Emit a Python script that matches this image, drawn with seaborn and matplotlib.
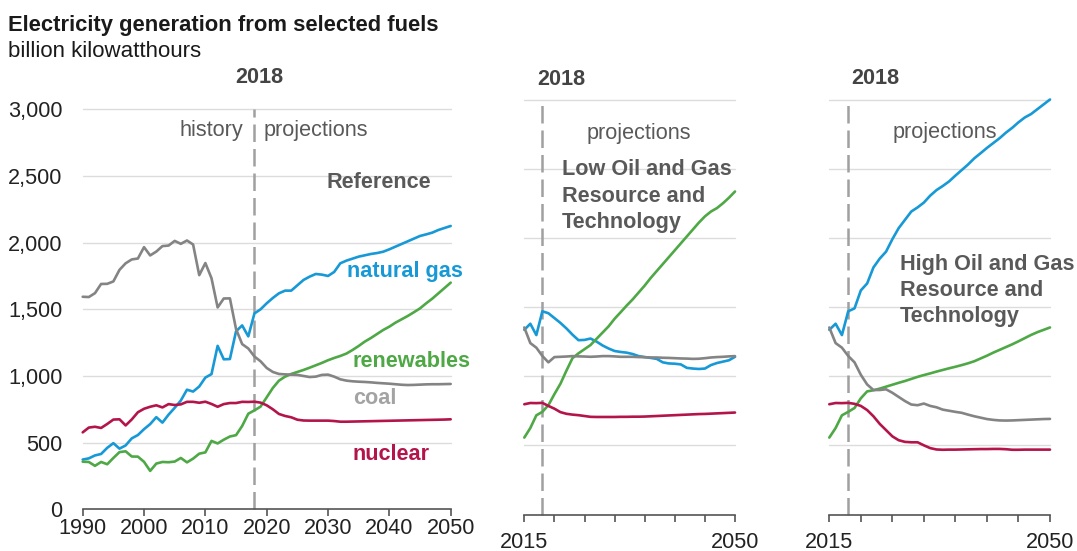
import matplotlib
matplotlib.use("Agg")
import matplotlib.pyplot as plt
import seaborn as sns
import pandas as pd
import numpy as np

# ---------------- data (billion kWh) ----------------
hist_years = list(range(1990, 2019))
hist_coal = [1594, 1592, 1621, 1690, 1691, 1709, 1796, 1845, 1874, 1881, 1966, 1904, 1933, 1974,
             1978, 2013, 1991, 2016, 1986, 1756, 1847, 1733, 1514, 1581, 1582, 1352, 1239, 1206, 1146]
hist_gas = [373, 382, 404, 415, 461, 496, 455, 479, 532, 557, 601, 639, 691, 650,
            710, 761, 816, 897, 883, 921, 988, 1014, 1226, 1125, 1127, 1335, 1379, 1297, 1469]
hist_nuclear = [577, 613, 619, 610, 640, 673, 675, 629, 674, 728, 754, 769, 780, 764,
                789, 782, 787, 806, 806, 799, 807, 790, 769, 789, 797, 797, 806, 805, 807]
hist_renew = [357, 355, 326, 355, 338, 385, 429, 435, 396, 395, 356, 288, 343, 355,
              353, 358, 385, 352, 380, 417, 427, 513, 494, 522, 546, 556, 625, 717, 742]

proj_years = list(range(2019, 2051))
# Reference case
ref_gas = [1500, 1545, 1585, 1620, 1640, 1640, 1680, 1720, 1745, 1765, 1760, 1750, 1780, 1845, 1865, 1880,
           1895, 1905, 1915, 1922, 1932, 1950, 1970, 1990, 2010, 2030, 2050, 2062, 2075, 2095, 2110, 2125]
ref_renew = [770, 840, 910, 965, 995, 1015, 1030, 1045, 1062, 1080, 1098, 1118, 1135, 1150, 1168, 1195,
             1225, 1258, 1285, 1315, 1345, 1370, 1400, 1425, 1450, 1478, 1507, 1545, 1580, 1620, 1660, 1700]
ref_coal = [1110, 1060, 1030, 1015, 1012, 1010, 1008, 1000, 992, 995, 1008, 1010, 995, 975, 965, 960,
            957, 955, 952, 948, 945, 942, 938, 934, 932, 933, 935, 937, 938, 938, 939, 940]
ref_nuclear = [800, 780, 750, 715, 700, 690, 672, 666, 665, 665, 665, 665, 662, 657, 657, 658,
               659, 660, 661, 662, 663, 664, 665, 666, 667, 668, 669, 670, 671, 672, 673, 675]
# Low Oil and Gas Resource and Technology
low_gas = [1455, 1420, 1385, 1345, 1300, 1260, 1262, 1272, 1250, 1222, 1200, 1182, 1175, 1170, 1160, 1145,
           1138, 1132, 1125, 1100, 1092, 1090, 1085, 1060, 1055, 1052, 1055, 1080, 1095, 1105, 1115, 1140]
low_renew = [790, 870, 945, 1040, 1130, 1165, 1195, 1225, 1270, 1315, 1360, 1415, 1462, 1510, 1555, 1605,
             1655, 1710, 1760, 1810, 1860, 1910, 1960, 2010, 2060, 2110, 2155, 2190, 2215, 2250, 2290, 2335]
low_coal = [1100, 1138, 1140, 1142, 1145, 1143, 1142, 1140, 1142, 1145, 1145, 1143, 1140, 1140, 1140, 1138,
            1137, 1135, 1135, 1133, 1132, 1130, 1128, 1127, 1125, 1126, 1130, 1135, 1138, 1140, 1143, 1145]
low_nuclear = [785, 765, 740, 728, 722, 718, 712, 706, 705, 705, 705, 705, 706, 706, 707, 707,
               708, 710, 712, 714, 716, 718, 720, 722, 724, 726, 727, 729, 731, 733, 735, 737]
# High Oil and Gas Resource and Technology
high_gas = [1490, 1620, 1670, 1786, 1850, 1900, 1990, 2070, 2130, 2190, 2220, 2255, 2305, 2345, 2375, 2408,
            2450, 2490, 2530, 2575, 2612, 2650, 2685, 2720, 2760, 2795, 2835, 2870, 2895, 2930, 2965, 3000]
high_renew = [770, 840, 890, 898, 910, 924, 938, 952, 965, 980, 995, 1008, 1020, 1033, 1045, 1057,
              1068, 1080, 1093, 1108, 1128, 1148, 1170, 1190, 1210, 1230, 1252, 1275, 1298, 1318, 1335, 1352]
high_coal = [1100, 1010, 940, 900, 900, 905, 880, 850, 820, 795, 790, 802, 785, 775, 758, 750,
             742, 735, 722, 710, 700, 690, 684, 680, 679, 680, 682, 684, 686, 688, 690, 691]
high_nuclear = [800, 785, 755, 710, 655, 610, 565, 537, 525, 522, 522, 500, 480, 470, 468, 469,
                469, 470, 471, 472, 473, 473, 474, 474, 472, 468, 468, 469, 469, 469, 469, 469]

fuels = ["natural gas", "renewables", "coal", "nuclear"]
yticks = [0, 500, 1000, 1500, 2000, 2500, 3000]
ytick_labels = ["0", "500", "1,000", "1,500", "2,000", "2,500", "3,000"]
left_xticks = [1990, 2000, 2010, 2020, 2030, 2040, 2050]
side_xticks = [2015, 2020, 2025, 2030, 2035, 2040, 2045, 2050]
side_xlabels = ["2015", "", "", "", "", "", "", "2050"]

hist = {"natural gas": hist_gas, "renewables": hist_renew, "coal": hist_coal, "nuclear": hist_nuclear}
cases = {
    "Reference": {"natural gas": ref_gas, "renewables": ref_renew, "coal": ref_coal, "nuclear": ref_nuclear},
    "Low": {"natural gas": low_gas, "renewables": low_renew, "coal": low_coal, "nuclear": low_nuclear},
    "High": {"natural gas": high_gas, "renewables": high_renew, "coal": high_coal, "nuclear": high_nuclear},
}


def build(case, start):
    rows = []
    for f in fuels:
        for y, v in zip(hist_years, hist[f]):
            if y >= start:
                rows.append((y, v, f))
        for y, v in zip(proj_years, cases[case][f]):
            rows.append((y, v, f))
    return pd.DataFrame(rows, columns=["year", "value", "fuel"])


line_colors = {"natural gas": "#1699d6", "renewables": "#4ea845", "coal": "#848484", "nuclear": "#b3154a"}

# ---------------- figure ----------------
sns.set_style("white")
plt.rcParams["font.family"] = ["Liberation Sans", "DejaVu Sans"]

W, H = 1077, 551
fig = plt.figure(figsize=(W / 100, H / 100), dpi=100)


def rect(x0, x1, y0, y1):
    return [x0 / W, 1 - y0 / H, (x1 - x0) / W, (y0 - y1) / H]


ax1 = fig.add_axes(rect(82.7, 450.7, 509.3, 109.3))
ax2 = fig.add_axes(rect(524.3, 735.0, 514.5, 99.5))
ax3 = fig.add_axes(rect(829.3, 1050.0, 514.5, 99.5))

panels = [(ax1, "Reference", 1990, (1990, 2050)),
          (ax2, "Low", 2015, (2015, 2050)),
          (ax3, "High", 2015, (2015, 2050))]

FS = 15.6

for ax, case, start, xl in panels:
    df = build(case, start)
    for y in yticks[1:]:
        ax.axhline(y, color="#dcdcdc", lw=1.0, zorder=0)
    ax.axvline(2018, color="#a0a0a0", lw=1.8, dashes=(7, 2.8), zorder=1)
    sns.lineplot(data=df, x="year", y="value", hue="fuel", hue_order=fuels,
                 palette=line_colors, linewidth=1.9, legend=False, ax=ax, zorder=3)
    for ln in ax.lines:
        ln.set_clip_on(False)
    ax.set_xlim(*xl)
    ax.set_ylim(0, 3000)
    ax.set_xlabel("")
    ax.set_ylabel("")
    for s in ["top", "right", "left"]:
        ax.spines[s].set_visible(False)
    ax.spines["bottom"].set_color("#555555")
    ax.spines["bottom"].set_linewidth(1.2)
    ax.set_facecolor("none")

ax1.set_yticks(yticks)
ax1.set_yticklabels(ytick_labels)
ax1.tick_params(axis="y", length=0, pad=14.5, labelsize=FS, labelcolor="#222222")
ax1.set_xticks(left_xticks)
ax1.set_xticklabels([str(t) for t in left_xticks])
ax1.tick_params(axis="x", length=4.8, width=1.2, color="#555555", pad=1.8, labelsize=FS,
                labelcolor="#222222", direction="out", bottom=True)

for ax in (ax2, ax3):
    ax.set_yticks(yticks)
    ax.set_yticklabels([])
    ax.tick_params(axis="y", length=0)
    ax.set_xticks(side_xticks)
    ax.set_xticklabels(side_xlabels)
    ax.tick_params(axis="x", length=5.2, width=1.2, color="#555555", pad=7.5, labelsize=FS,
                   labelcolor="#222222", direction="out", bottom=True)


def t(x, y, s, **kw):
    fig.text(x / W, 1 - y / H, s, **kw)


t(8, 31, "Electricity generation from selected fuels", fontsize=15.8, fontweight="bold",
  color="#1a1a1a", va="baseline", ha="left")
t(8, 57, "billion kilowatthours", fontsize=16.0, color="#1a1a1a", va="baseline", ha="left")

dark = "#444444"
lab = "#595959"
for xc, yb in [(259, 83), (561, 85), (875, 84)]:
    t(xc, yb, "2018", fontsize=FS, fontweight="bold", color=dark, ha="center", va="baseline")

t(243.5, 136, "history", fontsize=FS, color=lab, ha="right", va="baseline")
t(263.5, 136, "projections", fontsize=FS, color=lab, ha="left", va="baseline")
t(587, 139, "projections", fontsize=FS, color=lab, ha="left", va="baseline")
t(893, 138, "projections", fontsize=FS, color=lab, ha="left", va="baseline")

t(327, 188, "Reference", fontsize=FS, fontweight="bold", color=lab, ha="left", va="baseline")
for i, line in enumerate(["Low Oil and Gas", "Resource and", "Technology"]):
    t(561.5, 175 + 26.5 * i, line, fontsize=FS, fontweight="bold", color=lab, ha="left", va="baseline")
for i, line in enumerate(["High Oil and Gas", "Resource and", "Technology"]):
    t(900, 270 + 26 * i, line, fontsize=FS, fontweight="bold", color=lab, ha="left", va="baseline")

t(346.5, 277, "natural gas", fontsize=FS, fontweight="bold", color="#1699d6", ha="left", va="baseline")
t(353, 367, "renewables", fontsize=FS, fontweight="bold", color="#4ea845", ha="left", va="baseline")
t(353, 404, "coal", fontsize=FS, fontweight="bold", color="#a3a3a3", ha="left", va="baseline")
t(353, 460, "nuclear", fontsize=FS, fontweight="bold", color="#b3154a", ha="left", va="baseline")

fig.savefig("out.png", dpi=100, facecolor="white")
